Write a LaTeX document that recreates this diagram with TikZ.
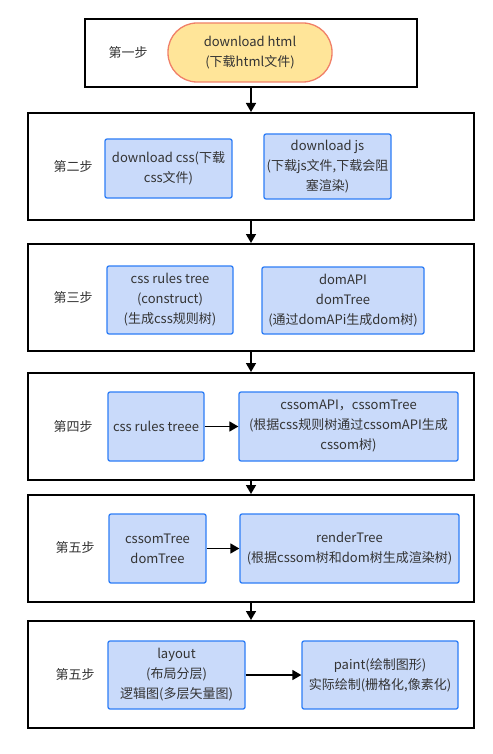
\documentclass[tikz,border=0pt]{standalone}
\usepackage{fontspec}
\setmainfont{Noto Sans CJK SC}
\usetikzlibrary{arrows.meta}
\definecolor{boxblue}{RGB}{201,218,250}
\definecolor{lineblue}{RGB}{45,125,246}
\definecolor{pillfill}{RGB}{255,229,153}
\definecolor{pillline}{RGB}{240,128,104}
\definecolor{txtgray}{RGB}{51,51,51}

\begin{document}
\begin{tikzpicture}[x=1pt, y=-1pt,
    stepframe/.style={draw=black, line width=2pt, minimum width=446pt, minimum height=107pt, inner sep=0pt},
    task/.style={draw=lineblue, line width=1.3pt, rounded corners=2pt, fill=boxblue, align=center, text=txtgray, inner sep=2pt, font=\fontsize{13}{20}\selectfont},
    pill/.style={draw=pillline, line width=1.3pt, rounded corners=29pt, fill=pillfill, align=center, text=txtgray, inner sep=2pt, font=\fontsize{13}{20}\selectfont},
    steplbl/.style={text=txtgray, font=\fontsize{13}{15}\selectfont},
    arr/.style={-{Triangle[length=9pt,width=10pt]}, line width=1.6pt},
]
\useasboundingbox (0,0) rectangle (492,754);

% ===== STEP FRAMES =====
\node[stepframe, minimum width=332pt, minimum height=68pt] (frame1) at (251,53) {};
\node[stepframe] (frame2) at (251,166.5) {};
\node[stepframe] (frame3) at (251,297.5) {};
\node[stepframe] (frame4) at (251,426.5) {};
\node[stepframe] (frame5) at (251,548.5) {};
\node[stepframe] (frame6) at (251,674.5) {};

\node[steplbl] (lbl1) at (128,53) {第一步};
\node[steplbl] (lbl2) at (73,167) {第二步};
\node[steplbl] (lbl3) at (73,298) {第三步};
\node[steplbl] (lbl4) at (73,427) {第四步};
\node[steplbl] (lbl5) at (75,548) {第五步};
\node[steplbl] (lbl6) at (75,675) {第五步};

% ===== TASKS =====
\node[pill, minimum width=164pt, minimum height=59pt] (html) at (250,52.5) {download html\\(下载html文件)};

\node[task, minimum width=127pt, minimum height=59pt] (css) at (168.5,168.5) {download css(下载\\css文件)};
\node[task, minimum width=127pt, minimum height=65pt] (js) at (327.5,166.5) {download js\\(下载js文件,下载会阻\\塞渲染)};

\node[task, minimum width=126pt, minimum height=68pt] (cssrules) at (170,300) {css rules tree\\(construct)\\(生成css规则树)};
\node[task, minimum width=162pt, minimum height=67pt] (domtree) at (343,300.5) {domAPI\\domTree\\(通过domAPi生成dom树)};

\node[task, minimum width=96pt, minimum height=69pt] (rulestree) at (156,426.5) {css rules treee};
\node[task, minimum width=219pt, minimum height=69pt] (cssom) at (348.5,426.5) {cssomAPI，cssomTree\\(根据css规则树通过cssomAPI生成\\cssom树)};

\node[task, minimum width=97pt, minimum height=69pt] (trees) at (157.5,548.5) {cssomTree\\domTree};
\node[task, minimum width=219pt, minimum height=69pt] (render) at (349.5,548.5) {renderTree\\(根据cssom树和dom树生成渲染树)};

\node[task, minimum width=137pt, minimum height=68pt] (layout) at (176.5,675) {layout\\(布局分层)\\逻辑图(多层矢量图)};
\node[task, minimum width=156pt, minimum height=68pt] (paint) at (380,675) {paint(绘制图形)\\实际绘制(栅格化,像素化)};

% ===== ARROWS =====
\draw[arr] (frame1.south) -- (frame2.north);
\draw[arr] (frame2.south) -- (frame3.north);
\draw[arr] (frame3.south) -- (frame4.north);
\draw[arr] (frame4.south) -- (frame5.north);
\draw[arr] (frame5.south) -- (frame6.north);
\draw[arr] (rulestree.east) -- (cssom.west);
\draw[arr] (trees.east) -- (render.west);
\draw[arr] (layout.east) -- (paint.west);

\end{tikzpicture}
\end{document}
